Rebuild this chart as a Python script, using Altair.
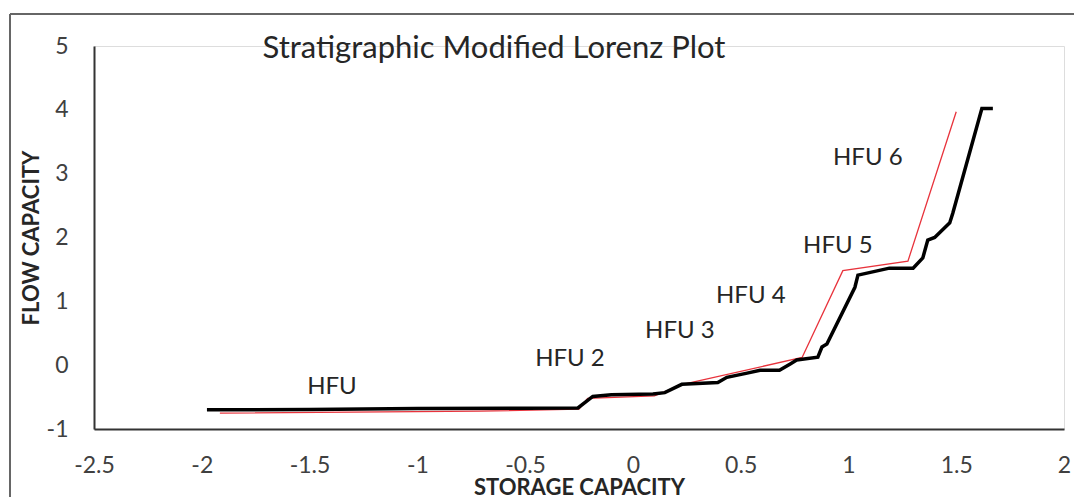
import altair as alt
import pandas as pd

# ---- data ----
black_x = [-1.976, -1.5, -1.0, -0.5, -0.255, -0.186, -0.10, 0.093, 0.148, 0.227, 0.394, 0.436,
           0.53, 0.59, 0.68, 0.73, 0.76, 0.858, 0.877, 0.90, 1.03, 1.044, 1.19, 1.30, 1.345,
           1.368, 1.40, 1.47, 1.484, 1.619, 1.67]
black_y = [-0.70, -0.695, -0.68, -0.675, -0.67, -0.49, -0.465, -0.45, -0.43, -0.30, -0.27, -0.19,
           -0.125, -0.08, -0.08, 0.02, 0.08, 0.125, 0.285, 0.33, 1.22, 1.41, 1.52, 1.52, 1.68,
           1.96, 2.0, 2.23, 2.38, 4.02, 4.02]

red_x = [-1.916, -0.71, -0.25, -0.21, 0.10, 0.232, 0.785, 0.974, 1.276, 1.50]
red_y = [-0.75, -0.72, -0.69, -0.52, -0.48, -0.30, 0.12, 1.48, 1.63, 3.97]

label_text = ["HFU", "HFU 2", "HFU 3", "HFU 4", "HFU 5", "HFU 6"]
label_x = [-1.396, -0.292, 0.218, 0.547, 0.951, 1.09]
label_y = [-0.342, 0.097, 0.535, 1.084, 1.867, 3.25]

title_text = ["Stratigraphic Modified Lorenz Plot"]

x_ticks = [-2.5, -2, -1.5, -1, -0.5, 0, 0.5, 1, 1.5, 2]
y_ticks = [-1, 0, 1, 2, 3, 4, 5]

black_df = pd.DataFrame({"x": black_x, "y": black_y})
red_df = pd.DataFrame({"x": red_x, "y": red_y})
lab_df = pd.DataFrame({"t": label_text, "x": label_x, "y": label_y})
title_df = pd.DataFrame({"t": title_text})

FONT = "Lato"

xs = alt.Scale(domain=[-2.5, 2], nice=False, zero=False)
ys = alt.Scale(domain=[-1, 5], nice=False, zero=False)

x_axis = alt.Axis(values=x_ticks, labelExpr="'' + datum.value", ticks=False, grid=False,
                  domainColor="#333333", domainWidth=2, labelFont=FONT, labelFontSize=23,
                  labelColor="#404040", labelPadding=25, title="STORAGE CAPACITY",
                  titleFont=FONT, titleFontSize=22, titleFontWeight="bold", titleColor="#262626",
                  titlePadding=0, labelFlush=False)
y_axis = alt.Axis(values=y_ticks, labelExpr="'' + datum.value", ticks=False, grid=False,
                  domainColor="#333333", domainWidth=2, labelFont=FONT, labelFontSize=23,
                  labelColor="#404040", labelPadding=26, title="FLOW CAPACITY",
                  titleFont=FONT, titleFontSize=22, titleFontWeight="bold", titleColor="#262626",
                  titlePadding=3, labelFlush=False)

black = alt.Chart(black_df).mark_line(color="#000000", strokeWidth=3.5).encode(
    x=alt.X("x:Q", scale=xs, axis=x_axis),
    y=alt.Y("y:Q", scale=ys, axis=y_axis),
)
red = alt.Chart(red_df).mark_line(color="#e8333c", strokeWidth=1.3).encode(
    x=alt.X("x:Q", scale=xs),
    y=alt.Y("y:Q", scale=ys),
)
labels = alt.Chart(lab_df).mark_text(font=FONT, fontSize=24, color="#262626",
                                     align="center", baseline="middle").encode(
    x=alt.X("x:Q", scale=xs),
    y=alt.Y("y:Q", scale=ys),
    text="t:N",
)
title = alt.Chart(title_df).mark_text(font=FONT, fontSize=31, color="#262626",
                                      align="center", baseline="alphabetic").encode(
    x=alt.value(400), y=alt.value(12), text="t:N")

one = pd.DataFrame({"k": [0]})
frame_top = alt.Chart(one).mark_rule(color="#666666", strokeWidth=2).encode(
    x=alt.value(-84), x2=alt.value(1000), y=alt.value(-32))
frame_left = alt.Chart(one).mark_rule(color="#666666", strokeWidth=2).encode(
    x=alt.value(-84), y=alt.value(-32), y2=alt.value(500))

chart = alt.layer(frame_top, frame_left, red, black, labels, title).properties(
    width=970,
    height=383,
    padding={"left": 86, "top": 38, "right": 10, "bottom": 68},
    autosize=alt.AutoSizeParams(type="none"),
).configure_view(stroke=None).configure(background="white")

chart.save("out.html", embed_options={"renderer": "svg", "actions": False})
